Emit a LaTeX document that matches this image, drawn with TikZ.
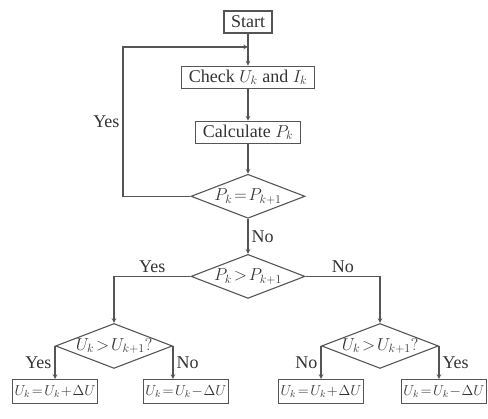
\documentclass[tikz,border=0pt]{standalone}
\usepackage{fontspec}
\setmainfont{Liberation Serif}
\usetikzlibrary{shapes,arrows,positioning}
\definecolor{linegray}{HTML}{555555}
\definecolor{textgray}{HTML}{333333}
\tikzstyle{process} = [rectangle, draw=linegray, line width=1.1pt, inner xsep=7pt, inner ysep=2pt, minimum height=22pt, text=textgray, font=\fontsize{18}{20}\selectfont]
\tikzstyle{result} = [rectangle, draw=linegray, line width=1.1pt, inner xsep=2pt, inner ysep=2pt, minimum height=24pt, text=textgray, font=\fontsize{14.5}{17}\selectfont]
\tikzstyle{decision} = [diamond, aspect=2.6, inner sep=0pt, minimum width=114pt, minimum height=44pt, draw=linegray, line width=1.1pt, text=textgray, font=\fontsize{17}{19}\selectfont]
\tikzstyle{lbl} = [text=textgray, font=\fontsize{18}{20}\selectfont, inner sep=3pt]
\tikzstyle{arrow} = [draw=linegray, line width=1.1pt, ->, >=stealth]

\begin{document}
\begin{tikzpicture}[x=1pt,y=-1pt]
	\useasboundingbox (0,0) rectangle (488,419);
	\node[process] (start) at (248,22) {Start};
	\node[process, below=32pt of start] (check) {Check $U_k$ and $I_k$};
	\node[process, below=32pt of check] (calc) {Calculate $P_k$};
	\node[decision, below=30pt of calc] (equal) {$P_k\!=\!P_{k+1}$};
	\node[decision, below=35pt of equal] (greater) {$P_k\!>\!P_{k+1}$};
	\node[decision, below=24pt of greater, xshift=-134pt] (uleft) {$U_k\!>\!U_{k+1}?$};
	\node[decision, below=24pt of greater, xshift=132pt] (uright) {$U_k\!>\!U_{k+1}?$};
	\node[result, below=33pt of uleft.west] (inc1) {$U_k\!=\!U_k\!+\!\Delta U$};
	\node[result, below=33pt of uleft.east, xshift=13pt] (dec1) {$U_k\!=\!U_k\!-\!\Delta U$};
	\node[result, below=33pt of uright.west] (inc2) {$U_k\!=\!U_k\!+\!\Delta U$};
	\node[result, below=33pt of uright.east, xshift=5pt] (dec2) {$U_k\!=\!U_k\!-\!\Delta U$};
	\coordinate (back) at (123,47);

	\draw[arrow] (start) -- (check);
	\draw[arrow] (check) -- (calc);
	\draw[arrow] (calc) -- (equal);
	\draw[arrow] (equal) -- node[lbl, right] (no1) {No} (greater);
	\draw[arrow] (equal.west) -| node[lbl, left, pos=0.75] (yes1) {Yes} (back) -- (back -| start);
	\draw[arrow] (greater.west) -| node[lbl, above, pos=0.25] (yes2) {Yes} (uleft.north);
	\draw[arrow] (greater.east) -| node[lbl, above, pos=0.25] (no2) {No} (uright.north);
	\draw[arrow] (uleft.west) -- node[lbl, left] (yes3) {Yes} (inc1.north);
	\draw[arrow] (uleft.east) -- node[lbl, right] (no3) {No} (uleft.east |- dec1.north);
	\draw[arrow] (uright.west) -- node[lbl, left] (no4) {No} (inc2.north);
	\draw[arrow] (uright.east) -- node[lbl, right] (yes4) {Yes} (uright.east |- dec2.north);
\end{tikzpicture}
\end{document}
